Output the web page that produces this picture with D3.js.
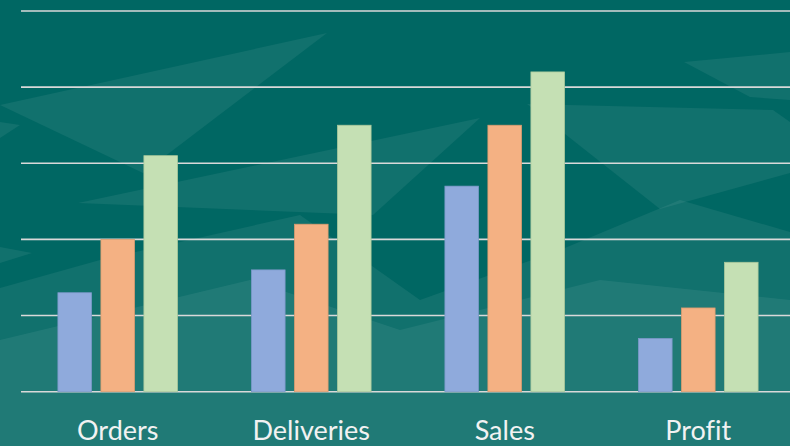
<!DOCTYPE html>
<html>
<head>
<meta charset="utf-8">
<script src="https://cdn.jsdelivr.net/npm/d3@7"></script>
<style>
  html, body { margin: 0; padding: 0; background: #006763; }
  svg { display: block; }
</style>
</head>
<body>
<div id="chart"></div>
<script>
// Data
const categories = ['Orders', 'Deliveries', 'Sales', 'Profit'];
const series = ['Series 1', 'Series 2', 'Series 3'];
const series1 = [1.3, 1.6, 2.7, 0.7];
const series2 = [2.0, 2.2, 3.5, 1.1];
const series3 = [3.1, 3.5, 4.2, 1.7];
const yTicks = [0, 1, 2, 3, 4, 5];

const colors = ['#8faadc', '#f4b183', '#c5e0b4'];
const strokes = ['#7a98c8', '#d99a6e', '#a9c79a'];

const width = 790;
const height = 446;
const margin = { t: 11, r: -5, b: 54, l: 21 };

const rows = categories.map((c, i) => ({
  name: c,
  values: [series1[i], series2[i], series3[i]],
}));

const svg = d3
  .select('#chart')
  .append('svg')
  .attr('width', width)
  .attr('height', height);

// background
svg.append('rect').attr('width', width).attr('height', height).attr('fill', '#006763');

// light translucent shards in the background
const shards = [
  [[0, 105], [327, 33], [143, 173]],
  [[0, 122], [20, 125], [0, 138]],
  [[78, 203], [480, 118], [373, 215]],
  [[684, 62], [790, 52], [790, 100], [750, 97]],
  [[527, 104], [773, 110], [790, 122], [790, 173], [660, 209]],
  [[0, 247], [32, 253], [0, 263]],
  [[0, 288], [100, 260], [300, 215], [420, 300], [560, 250], [680, 200], [790, 232], [790, 446], [0, 446]],
  [[0, 340], [250, 280], [400, 330], [600, 280], [790, 300], [790, 446], [0, 446]],
];
svg
  .append('g')
  .selectAll('polygon')
  .data(shards)
  .join('polygon')
  .attr('points', (d) => d.map((p) => p.join(',')).join(' '))
  .attr('fill', '#ffffff')
  .attr('fill-opacity', 0.065);

// scales
const xScale = d3.scaleBand(categories, [margin.l, width - margin.r]);
const bw = xScale.bandwidth();
const groupWidth = 119.7;
const x1 = d3
  .scaleBand(series, [(bw - groupWidth) / 2, (bw + groupWidth) / 2])
  .paddingInner(0.216);
const yScale = d3.scaleLinear([0, 5], [391.7, margin.t]);

// gridlines
svg
  .append('g')
  .selectAll('line')
  .data(yTicks)
  .join('line')
  .attr('x1', margin.l)
  .attr('x2', width)
  .attr('y1', (d) => yScale(d))
  .attr('y2', (d) => yScale(d))
  .attr('stroke', '#d9d9d9')
  .attr('stroke-width', 1.6);

// bars
const groups = svg
  .append('g')
  .selectAll('g')
  .data(rows)
  .join('g')
  .attr('transform', (d) => `translate(${xScale(d.name)},0)`);

groups
  .selectAll('rect')
  .data((d) => d.values.map((v, i) => ({ key: series[i], i, v })))
  .join('rect')
  .attr('x', (d) => x1(d.key))
  .attr('y', (d) => yScale(d.v))
  .attr('width', x1.bandwidth())
  .attr('height', (d) => yScale(0) - yScale(d.v))
  .attr('fill', (d) => colors[d.i])
  .attr('stroke', (d) => strokes[d.i])
  .attr('stroke-width', 0.75);

// category labels
svg
  .append('g')
  .selectAll('text')
  .data(categories)
  .join('text')
  .attr('x', (d) => xScale(d) + bw / 2)
  .attr('y', 440)
  .attr('text-anchor', 'middle')
  .attr('fill', '#f2f2f2')
  .style('font-family', 'Lato, "Open Sans", sans-serif')
  .style('font-size', '27px')
  .style('font-variant-ligatures', 'none')
  .text((d) => d);
</script>
</body>
</html>
